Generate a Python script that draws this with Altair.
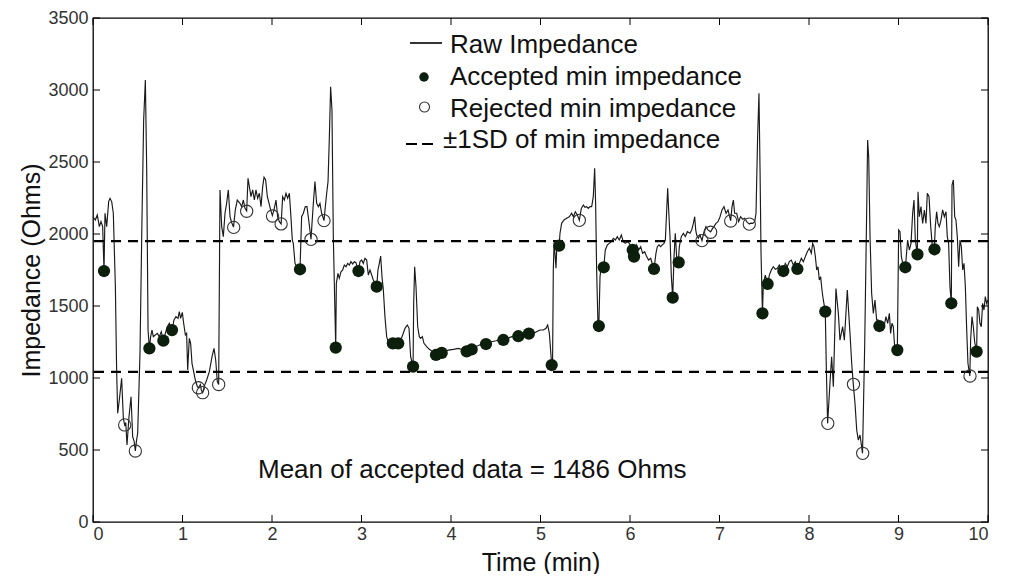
import altair as alt
import pandas as pd

# ---------------- data ----------------
raw_time = [
    0.000, 0.026, 0.048, 0.071, 0.089, 0.108, 0.123, 0.134, 0.153, 0.175,
    0.190, 0.209, 0.227, 0.250, 0.264, 0.276, 0.294, 0.320, 0.339, 0.354,
    0.366, 0.380, 0.402, 0.425, 0.443, 0.460, 0.473, 0.485, 0.499, 0.525,
    0.547, 0.566, 0.585, 0.600, 0.615, 0.630, 0.644, 0.659, 0.674, 0.696,
    0.719, 0.741, 0.763, 0.786, 0.808, 0.830, 0.853, 0.883, 0.905, 0.927,
    0.950, 0.964, 0.979, 0.998, 1.013, 1.032, 1.046, 1.058, 1.076, 1.091,
    1.106, 1.121, 1.143, 1.166, 1.177, 1.200, 1.210, 1.225, 1.248, 1.270,
    1.300, 1.330, 1.352, 1.371, 1.389, 1.404, 1.419, 1.438, 1.456, 1.475,
    1.493, 1.512, 1.531, 1.549, 1.570, 1.590, 1.612, 1.642, 1.661, 1.680,
    1.698, 1.717, 1.732, 1.747, 1.765, 1.784, 1.803, 1.821, 1.840, 1.859,
    1.877, 1.896, 1.911, 1.929, 1.948, 1.967, 1.985, 2.004, 2.022, 2.045,
    2.063, 2.082, 2.102, 2.119, 2.138, 2.156, 2.175, 2.194, 2.209, 2.227,
    2.238, 2.257, 2.276, 2.313, 2.331, 2.350, 2.372, 2.391, 2.410, 2.436,
    2.447, 2.462, 2.480, 2.499, 2.518, 2.536, 2.555, 2.581, 2.592, 2.611,
    2.626, 2.641, 2.655, 2.670, 2.685, 2.712, 2.719, 2.737, 2.752, 2.771,
    2.790, 2.808, 2.827, 2.845, 2.864, 2.882, 2.901, 2.920, 2.938, 2.966,
    2.983, 3.002, 3.020, 3.039, 3.058, 3.076, 3.095, 3.114, 3.132, 3.170,
    3.184, 3.199, 3.214, 3.229, 3.244, 3.262, 3.281, 3.300, 3.350, 3.380,
    3.410, 3.430, 3.460, 3.486, 3.512, 3.531, 3.549, 3.576, 3.583, 3.594,
    3.609, 3.628, 3.646, 3.661, 3.680, 3.698, 3.728, 3.758, 3.795, 3.832,
    3.877, 3.896, 3.922, 3.970, 4.026, 4.082, 4.138, 4.175, 4.194, 4.231,
    4.249, 4.294, 4.342, 4.391, 4.454, 4.503, 4.547, 4.585, 4.603, 4.659,
    4.704, 4.752, 4.808, 4.864, 4.920, 4.994, 5.032, 5.062, 5.080, 5.099,
    5.125, 5.135, 5.143, 5.151, 5.162, 5.173, 5.184, 5.208, 5.218, 5.236,
    5.263, 5.292, 5.322, 5.348, 5.367, 5.389, 5.412, 5.434, 5.456, 5.479,
    5.497, 5.516, 5.534, 5.553, 5.572, 5.590, 5.605, 5.616, 5.627, 5.642,
    5.652, 5.665, 5.680, 5.707, 5.724, 5.747, 5.769, 5.791, 5.814, 5.836,
    5.858, 5.881, 5.903, 5.925, 5.948, 5.970, 5.992, 6.015, 6.030, 6.045,
    6.056, 6.074, 6.097, 6.119, 6.141, 6.164, 6.186, 6.208, 6.231, 6.253,
    6.268, 6.290, 6.305, 6.324, 6.343, 6.361, 6.380, 6.395, 6.410, 6.421,
    6.432, 6.447, 6.462, 6.477, 6.492, 6.506, 6.521, 6.540, 6.551, 6.573,
    6.596, 6.618, 6.641, 6.670, 6.689, 6.708, 6.723, 6.734, 6.745, 6.764,
    6.782, 6.804, 6.827, 6.849, 6.871, 6.901, 6.916, 6.938, 6.961, 6.983,
    7.006, 7.028, 7.050, 7.073, 7.095, 7.125, 7.140, 7.155, 7.169, 7.192,
    7.214, 7.236, 7.259, 7.281, 7.304, 7.333, 7.348, 7.371, 7.393, 7.408,
    7.426, 7.441, 7.453, 7.464, 7.480, 7.490, 7.512, 7.538, 7.557, 7.579,
    7.601, 7.624, 7.646, 7.668, 7.691, 7.713, 7.735, 7.758, 7.780, 7.802,
    7.825, 7.847, 7.870, 7.892, 7.914, 7.937, 7.959, 7.981, 8.004, 8.026,
    8.041, 8.056, 8.071, 8.086, 8.101, 8.115, 8.130, 8.145, 8.160, 8.182,
    8.194, 8.208, 8.234, 8.253, 8.272, 8.301, 8.328, 8.346,
    8.376, 8.395, 8.428, 8.458, 8.477, 8.495, 8.514, 8.533,
    8.551, 8.570, 8.598, 8.622, 8.644, 8.655, 8.667, 8.682, 8.700, 8.719,
    8.737, 8.756, 8.771, 8.786, 8.816, 8.838, 8.860, 8.879, 8.898, 8.912,
    8.927, 8.942, 8.957, 8.987, 9.002, 9.017, 9.032, 9.047, 9.076, 9.084,
    9.102, 9.121, 9.140, 9.158, 9.173, 9.188, 9.210, 9.218, 9.233, 9.251,
    9.270, 9.289, 9.307, 9.322, 9.341, 9.360, 9.378, 9.400, 9.411, 9.426,
    9.441, 9.456, 9.475, 9.493, 9.512, 9.531, 9.545, 9.560, 9.575, 9.590,
    9.598, 9.613, 9.628, 9.642, 9.657, 9.672, 9.687, 9.702, 9.717, 9.732,
    9.747, 9.762, 9.776, 9.797, 9.806, 9.821, 9.836, 9.851, 9.873, 9.881,
    9.896, 9.910, 9.925, 9.940, 9.955, 9.970, 9.985, 10.000,
]
raw_impedance = [
    2120, 2097, 2132, 2051, 2086, 2051, 1743, 2144, 2051, 2225,
    2248, 2225, 2144, 1634, 1056, 755, 847, 998, 720, 674,
    690, 535, 731, 870, 592, 560, 493, 560, 616, 1171,
    2097, 2792, 3070, 2445, 1333, 1206, 1287, 1333, 1287, 1299,
    1310, 1287, 1322, 1259, 1310, 1356, 1380, 1333, 1403, 1426,
    1414, 1461, 1414, 1456, 1380, 1299, 1310, 1056, 1275, 1241,
    1102, 1056, 986, 940, 932, 955, 917, 898, 951, 986,
    1044, 1148, 1206, 1125, 975, 955, 2306, 2051, 1982, 2144,
    2213, 2306, 2120, 2080, 2048, 2167, 2236, 2213, 2190, 2236,
    2178, 2160, 2387, 2329, 2259, 2306, 2236, 2306, 2248, 2283,
    2190, 2329, 2394, 2375, 2259, 2213, 2167, 2128, 2167, 2236,
    2120, 2086, 2070, 2259, 2236, 2283, 2248, 2283, 2144, 1958,
    1935, 1796, 1773, 1755, 2120, 2144, 2190, 2190, 2097, 1963,
    2074, 2213, 2364, 2213, 2190, 2213, 2144, 2093, 2167, 2283,
    2364, 2676, 3023, 2861, 1982, 1211, 1657, 1727, 1692, 1738,
    1750, 1785, 1773, 1796, 1785, 1808, 1792, 1808, 1801, 1743,
    1808, 1819, 1796, 1831, 1819, 1715, 1750, 1715, 1681, 1634,
    1750, 1796, 1847, 1704, 1611, 1426, 1287, 1252, 1241, 1250,
    1241, 1250, 1299, 1345, 1368, 1345, 1148, 1079, 1518, 1773,
    1634, 1356, 1287, 1275, 1287, 1241, 1218, 1199, 1183, 1160,
    1183, 1172, 1180, 1194, 1199, 1206, 1194, 1185, 1199, 1196,
    1218, 1222, 1236, 1236, 1252, 1259, 1268, 1264, 1268, 1282,
    1292, 1290, 1299, 1308, 1310, 1333, 1333, 1345, 1368, 1310,
    1090, 1125, 1750, 1912, 1866, 1762, 1935, 1919, 2005, 2074,
    2097, 2109, 2120, 2144, 2120, 2155, 2132, 2095, 2178, 2201,
    2185, 2190, 2178, 2190, 2190, 2259, 2456, 2213, 1750, 1380,
    1361, 1704, 1780, 1769, 1889, 1924, 1935, 1947, 1970, 1958,
    1982, 1958, 1993, 1947, 1935, 1947, 1935, 1912, 1889, 1843,
    1889, 1924, 1889, 1912, 1866, 1877, 1843, 1819, 1831, 1785,
    1757, 1866, 1912, 1924, 1912, 1924, 1935, 1958, 2167, 2317,
    2167, 1982, 1704, 1558, 1843, 2005, 1843, 1803, 1912, 1982,
    2005, 1982, 2016, 2005, 2028, 2074, 2120, 2028, 1993, 1970,
    1993, 1954, 2016, 2051, 2028, 2015, 2032, 2051, 2074, 2086,
    2120, 2167, 2190, 2144, 2167, 2092, 2190, 2236, 2144, 2144,
    2086, 2120, 2102, 2109, 2086, 2069, 2075, 2074, 2086, 2144,
    2676, 2977, 2445, 1866, 1449, 1657, 1715, 1653, 1715, 1750,
    1773, 1755, 1762, 1785, 1750, 1743, 1796, 1773, 1808, 1819,
    1785, 1808, 1757, 1796, 1831, 1808, 1843, 1877, 1901, 1866,
    1935, 1912, 1843, 1750, 1773, 1681, 1704, 1611, 1542, 1461,
    1056, 685, 962, 1148, 939, 1622, 1449, 1263,
    1356, 1263, 1611, 1310, 1102, 956, 824, 639,
    569, 604, 477, 1217, 2143, 2653, 2537, 1982, 1587, 1449,
    1541, 1402, 1403, 1361, 1380, 1356, 1426, 1380, 1449, 1310,
    1380, 1356, 1218, 1194, 2028, 2016, 1843, 1796, 1769, 1819,
    1958, 1889, 1935, 2144, 2236, 1958, 1859, 2294, 2120, 2190,
    2074, 2167, 2074, 2283, 2259, 2051, 1912, 1894, 2051, 2155,
    2074, 2051, 2097, 2167, 2120, 2155, 1982, 1935, 1634, 1519,
    2340, 2375, 2120, 2097, 1982, 1773, 1958, 1912, 1750, 1796,
    1634, 1333, 1102, 1014, 1264, 1426, 1356, 1250, 1183, 1495,
    1472, 1380, 1356, 1518, 1472, 1565, 1518, 1542,
]

accepted_time = [0.123, 0.630, 0.786, 0.883, 2.313, 2.712, 2.966, 3.170, 3.350, 3.410,
                 3.576, 3.832, 3.896, 4.175, 4.231, 4.391, 4.585, 4.752, 4.870, 5.125,
                 5.208, 5.652, 5.707, 6.030, 6.045, 6.268, 6.477, 6.544, 7.480, 7.538,
                 7.713, 7.870, 8.182, 8.786, 8.987, 9.076, 9.212, 9.402, 9.590, 9.873]
accepted_impedance = [1743, 1206, 1259, 1333, 1755, 1211, 1743, 1634, 1241, 1241,
                      1079, 1160, 1174, 1185, 1198, 1236, 1264, 1290, 1308, 1090,
                      1919, 1361, 1769, 1889, 1843, 1757, 1558, 1803, 1449, 1653,
                      1743, 1757, 1461, 1361, 1194, 1769, 1859, 1894, 1519, 1183]

rejected_time = [0.354, 0.473, 1.177, 1.225, 1.404, 1.572, 1.717, 2.006, 2.102, 2.436,
                 2.581, 5.434, 6.804, 6.901, 7.125, 7.333, 8.210, 8.497, 8.600, 9.799]
rejected_impedance = [674, 493, 932, 898, 955, 2046, 2158, 2125, 2070, 1963,
                      2093, 2095, 1954, 2012, 2090, 2069, 685, 956, 477, 1014]

sd_levels = [1042, 1950]
x_ticks = [0, 1, 2, 3, 4, 5, 6, 7, 8, 9, 10]
y_ticks = [0, 500, 1000, 1500, 2000, 2500, 3000, 3500]
legend_labels = ["Raw Impedance", "Accepted min impedance",
                 "Rejected min impedance", "\u00b11SD of min impedance"]
mean_label = "Mean of accepted data = 1486 Ohms"
x_title = "Time (min)"
y_title = "Impedance (Ohms)"

# ---------------- chart ----------------
W, H = 895, 504
FONT = "Liberation Sans"
INK = "#111111"

raw_df = pd.DataFrame({"t": raw_time, "v": raw_impedance})
acc_df = pd.DataFrame({"t": accepted_time, "v": accepted_impedance})
rej_df = pd.DataFrame({"t": rejected_time, "v": rejected_impedance})
sd_df = pd.DataFrame({"v": sd_levels})
xt_df = pd.DataFrame({"t": x_ticks})
yt_df = pd.DataFrame({"v": y_ticks})
one = pd.DataFrame({"k": [0]})

xs = alt.Scale(domain=[0, 10], nice=False, zero=False)
ys = alt.Scale(domain=[0, 3500], nice=False, zero=False)

x_axis = alt.Axis(values=x_ticks, format="d", ticks=False, tickSize=0, domain=False, grid=False,
                  labelFont=FONT, labelFontSize=18, labelColor="#333333", labelPadding=3,
                  title=x_title, titleFont=FONT, titleFontSize=25, titleFontWeight="normal",
                  titleColor=INK, titleY=40, titleBaseline="middle")
y_axis = alt.Axis(values=y_ticks, format="d", ticks=False, tickSize=0, domain=False, grid=False,
                  labelFont=FONT, labelFontSize=18, labelColor="#333333", labelPadding=5,
                  title=y_title, titleFont=FONT, titleFontSize=25, titleFontWeight="normal",
                  titleColor=INK, titleX=-62, titleY=H / 2, titleAngle=270,
                  titleBaseline="middle", titleAlign="center")

X = alt.X("t:Q", scale=xs, axis=x_axis)
Y = alt.Y("v:Q", scale=ys, axis=y_axis)

line = alt.Chart(raw_df).mark_line(color="#1a1a1a", strokeWidth=1.15).encode(x=X, y=Y)

sd = alt.Chart(sd_df).mark_rule(color="black", strokeWidth=2.2, strokeDash=[10, 7]).encode(y=Y)

acc = alt.Chart(acc_df).mark_point(shape="circle", filled=True, size=150,
                                   color="#0c1e0c", opacity=1).encode(x=X, y=Y)

rej = alt.Chart(rej_df).mark_point(shape="circle", filled=False, size=150,
                                   color="#333333", strokeWidth=1.1, opacity=1).encode(x=X, y=Y)

tick_len = 7
left_ticks = alt.Chart(yt_df).mark_rule(color="black").encode(
    y=Y, x=alt.value(0), x2=alt.value(tick_len))
right_ticks = alt.Chart(yt_df).mark_rule(color="black").encode(
    y=Y, x=alt.value(W - tick_len), x2=alt.value(W))
bottom_ticks = alt.Chart(xt_df).mark_rule(color="black").encode(
    x=X, y=alt.value(H - tick_len), y2=alt.value(H))
top_ticks = alt.Chart(xt_df).mark_rule(color="black").encode(
    x=X, y=alt.value(0), y2=alt.value(tick_len))

# legend (drawn inside the plot, top centre)
def legend_text(label, x, y):
    return alt.Chart(pd.DataFrame({"label": [label]})).mark_text(
        font=FONT, fontSize=26, color=INK, align="left", baseline="alphabetic"
    ).encode(text="label:N", x=alt.value(x), y=alt.value(y))

leg_line = alt.Chart(one).mark_rule(color="black", strokeWidth=1.6).encode(
    x=alt.value(317), x2=alt.value(349), y=alt.value(25))
leg_acc = alt.Chart(one).mark_point(shape="circle", filled=True, size=90,
                                    color="#0c1e0c", opacity=1).encode(
    x=alt.value(331), y=alt.value(59))
leg_rej = alt.Chart(one).mark_point(shape="circle", filled=False, size=100,
                                    color="#333333", strokeWidth=1.1, opacity=1).encode(
    x=alt.value(331.5), y=alt.value(89))
leg_sd = alt.Chart(one).mark_rule(color="black", strokeWidth=2.2, strokeDash=[11, 5]).encode(
    x=alt.value(313), x2=alt.value(340), y=alt.value(126))

texts = [
    legend_text(legend_labels[0], 357, 35),
    legend_text(legend_labels[1], 357, 67),
    legend_text(legend_labels[2], 357, 98.5),
    legend_text(legend_labels[3], 350, 130),
]

mean_txt = alt.Chart(pd.DataFrame({"label": [mean_label]})).mark_text(
    font=FONT, fontSize=26, color=INK, align="left", baseline="alphabetic"
).encode(text="label:N", x=alt.value(165), y=alt.value(460))

chart = alt.layer(
    line, sd, rej, acc,
    left_ticks, right_ticks, bottom_ticks, top_ticks,
    leg_line, leg_acc, leg_rej, leg_sd, *texts, mean_txt,
).properties(
    width=W, height=H,
    autosize=alt.AutoSizeParams(type="none"),
    padding={"left": 85, "top": 10, "right": 13, "bottom": 52},
    background="white",
).configure_view(stroke="black", strokeWidth=1.3)

chart.save("out.html", embed_options={"renderer": "svg", "actions": False})
